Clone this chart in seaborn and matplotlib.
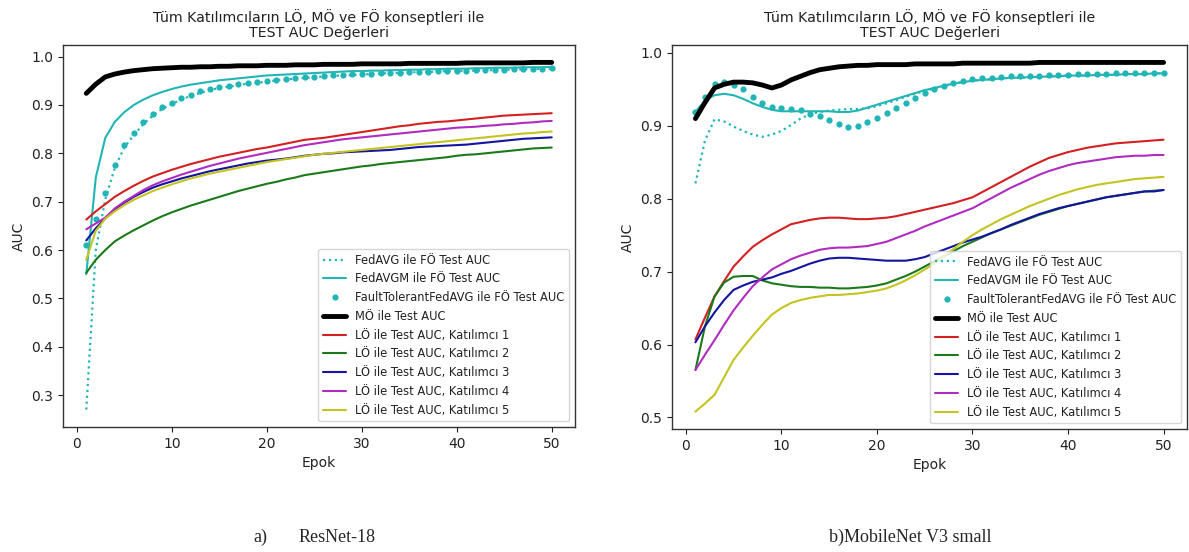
import numpy as np
import pandas as pd
import matplotlib
matplotlib.use("Agg")
import matplotlib.pyplot as plt
import seaborn as sns

epochs = list(range(1, 51))

# ---------- (a) ResNet-18 ----------
a_fedavg = [0.270, 0.600, 0.705, 0.770, 0.812, 0.838, 0.860, 0.878, 0.892, 0.902,
            0.911, 0.919, 0.925, 0.931, 0.935, 0.938, 0.941, 0.944, 0.946, 0.948,
            0.951, 0.953, 0.954, 0.956, 0.957, 0.959, 0.960, 0.961, 0.962, 0.963,
            0.964, 0.965, 0.966, 0.966, 0.967, 0.968, 0.968, 0.969, 0.970, 0.970,
            0.971, 0.971, 0.972, 0.972, 0.973, 0.973, 0.974, 0.974, 0.975, 0.975]
a_fedavgm = [0.550, 0.750, 0.832, 0.865, 0.885, 0.900, 0.911, 0.920, 0.927, 0.933,
             0.938, 0.942, 0.945, 0.948, 0.951, 0.953, 0.955, 0.957, 0.959, 0.961,
             0.962, 0.963, 0.964, 0.965, 0.966, 0.967, 0.968, 0.969, 0.970, 0.970,
             0.971, 0.971, 0.972, 0.972, 0.973, 0.973, 0.974, 0.974, 0.975, 0.975,
             0.975, 0.976, 0.976, 0.977, 0.977, 0.977, 0.978, 0.978, 0.978, 0.979]
a_ft = [0.610, 0.665, 0.718, 0.776, 0.818, 0.842, 0.864, 0.881, 0.895, 0.905,
        0.914, 0.921, 0.928, 0.933, 0.937, 0.940, 0.943, 0.945, 0.948, 0.950,
        0.952, 0.954, 0.956, 0.957, 0.958, 0.960, 0.961, 0.962, 0.963, 0.964,
        0.965, 0.966, 0.967, 0.967, 0.968, 0.969, 0.969, 0.970, 0.970, 0.971,
        0.971, 0.972, 0.972, 0.973, 0.973, 0.974, 0.974, 0.975, 0.975, 0.976]
a_mo = [0.924, 0.943, 0.958, 0.964, 0.968, 0.971, 0.973, 0.975, 0.976, 0.977,
        0.978, 0.978, 0.979, 0.979, 0.980, 0.980, 0.981, 0.981, 0.981, 0.982,
        0.982, 0.982, 0.983, 0.983, 0.983, 0.984, 0.984, 0.984, 0.984, 0.985,
        0.985, 0.985, 0.985, 0.985, 0.986, 0.986, 0.986, 0.986, 0.986, 0.986,
        0.987, 0.987, 0.987, 0.987, 0.987, 0.987, 0.987, 0.988, 0.988, 0.988]
a_p1 = [0.663, 0.680, 0.695, 0.710, 0.722, 0.733, 0.743, 0.752, 0.759, 0.766,
        0.772, 0.778, 0.783, 0.788, 0.793, 0.797, 0.801, 0.805, 0.809, 0.812,
        0.816, 0.820, 0.824, 0.828, 0.830, 0.832, 0.835, 0.838, 0.841, 0.844,
        0.847, 0.850, 0.853, 0.856, 0.858, 0.861, 0.863, 0.865, 0.866, 0.868,
        0.870, 0.872, 0.874, 0.876, 0.878, 0.879, 0.880, 0.881, 0.882, 0.883]
a_p2 = [0.553, 0.580, 0.600, 0.618, 0.630, 0.641, 0.651, 0.661, 0.670, 0.678,
        0.685, 0.692, 0.698, 0.704, 0.710, 0.716, 0.722, 0.727, 0.732, 0.737,
        0.741, 0.746, 0.750, 0.755, 0.758, 0.761, 0.764, 0.767, 0.770, 0.773,
        0.775, 0.778, 0.780, 0.782, 0.784, 0.786, 0.788, 0.790, 0.792, 0.795,
        0.797, 0.798, 0.800, 0.802, 0.804, 0.806, 0.808, 0.810, 0.811, 0.812]
a_p3 = [0.620, 0.645, 0.666, 0.684, 0.698, 0.710, 0.720, 0.729, 0.736, 0.742,
        0.748, 0.753, 0.758, 0.763, 0.767, 0.771, 0.775, 0.779, 0.782, 0.785,
        0.787, 0.789, 0.792, 0.795, 0.797, 0.799, 0.800, 0.802, 0.803, 0.804,
        0.805, 0.806, 0.807, 0.809, 0.811, 0.813, 0.814, 0.815, 0.816, 0.817,
        0.818, 0.820, 0.822, 0.824, 0.826, 0.828, 0.830, 0.831, 0.832, 0.833]
a_p4 = [0.643, 0.655, 0.667, 0.686, 0.700, 0.712, 0.724, 0.734, 0.742, 0.749,
        0.756, 0.762, 0.768, 0.774, 0.779, 0.784, 0.789, 0.793, 0.797, 0.801,
        0.805, 0.809, 0.813, 0.817, 0.820, 0.823, 0.826, 0.829, 0.831, 0.833,
        0.835, 0.837, 0.839, 0.841, 0.843, 0.845, 0.847, 0.849, 0.851, 0.853,
        0.854, 0.855, 0.857, 0.858, 0.860, 0.861, 0.863, 0.864, 0.866, 0.867]
a_p5 = [0.580, 0.640, 0.665, 0.680, 0.693, 0.704, 0.713, 0.722, 0.729, 0.736,
        0.742, 0.748, 0.753, 0.758, 0.762, 0.766, 0.770, 0.774, 0.778, 0.782,
        0.785, 0.788, 0.791, 0.794, 0.797, 0.799, 0.801, 0.803, 0.805, 0.807,
        0.809, 0.811, 0.813, 0.815, 0.817, 0.819, 0.821, 0.823, 0.825, 0.827,
        0.829, 0.831, 0.833, 0.835, 0.837, 0.839, 0.841, 0.842, 0.844, 0.845]

# ---------- (b) MobileNet V3 small ----------
b_fedavg = [0.821, 0.880, 0.909, 0.906, 0.899, 0.893, 0.888, 0.885, 0.888, 0.893,
            0.901, 0.910, 0.916, 0.919, 0.921, 0.922, 0.923, 0.923, 0.924, 0.927,
            0.931, 0.935, 0.940, 0.944, 0.948, 0.951, 0.955, 0.958, 0.960, 0.962,
            0.963, 0.964, 0.965, 0.966, 0.966, 0.967, 0.967, 0.968, 0.968, 0.969,
            0.969, 0.969, 0.970, 0.970, 0.970, 0.971, 0.971, 0.971, 0.972, 0.972]
b_fedavgm = [0.919, 0.935, 0.942, 0.944, 0.942, 0.937, 0.931, 0.926, 0.922, 0.920,
             0.920, 0.920, 0.920, 0.920, 0.920, 0.919, 0.919, 0.921, 0.925, 0.929,
             0.933, 0.937, 0.941, 0.945, 0.949, 0.952, 0.955, 0.958, 0.960, 0.962,
             0.963, 0.964, 0.965, 0.966, 0.966, 0.967, 0.967, 0.968, 0.968, 0.969,
             0.969, 0.969, 0.970, 0.970, 0.970, 0.971, 0.971, 0.971, 0.972, 0.972]
b_ft = [0.919, 0.940, 0.958, 0.960, 0.956, 0.950, 0.940, 0.931, 0.926, 0.924,
        0.923, 0.922, 0.916, 0.913, 0.908, 0.902, 0.899, 0.900, 0.905, 0.911,
        0.918, 0.925, 0.932, 0.938, 0.945, 0.951, 0.955, 0.959, 0.962, 0.964,
        0.965, 0.966, 0.967, 0.968, 0.968, 0.969, 0.969, 0.970, 0.970, 0.970,
        0.971, 0.971, 0.971, 0.971, 0.972, 0.972, 0.972, 0.972, 0.973, 0.973]
b_mo = [0.910, 0.932, 0.952, 0.957, 0.960, 0.960, 0.959, 0.956, 0.952, 0.956,
        0.963, 0.968, 0.973, 0.977, 0.979, 0.981, 0.982, 0.983, 0.983, 0.984,
        0.984, 0.984, 0.984, 0.985, 0.985, 0.985, 0.985, 0.985, 0.986, 0.986,
        0.986, 0.986, 0.986, 0.986, 0.986, 0.986, 0.987, 0.987, 0.987, 0.987,
        0.987, 0.987, 0.987, 0.987, 0.987, 0.987, 0.987, 0.987, 0.987, 0.987]
b_p1 = [0.607, 0.637, 0.666, 0.687, 0.707, 0.721, 0.734, 0.743, 0.751, 0.758,
        0.765, 0.768, 0.771, 0.773, 0.774, 0.774, 0.773, 0.772, 0.772, 0.773,
        0.774, 0.776, 0.779, 0.782, 0.785, 0.788, 0.791, 0.794, 0.798, 0.802,
        0.809, 0.816, 0.823, 0.830, 0.837, 0.844, 0.850, 0.856, 0.860, 0.864,
        0.867, 0.870, 0.872, 0.874, 0.876, 0.877, 0.878, 0.879, 0.880, 0.881]
b_p2 = [0.565, 0.625, 0.666, 0.685, 0.693, 0.694, 0.694, 0.688, 0.684, 0.682,
        0.680, 0.679, 0.679, 0.678, 0.678, 0.677, 0.677, 0.678, 0.679, 0.681,
        0.684, 0.689, 0.694, 0.700, 0.707, 0.714, 0.721, 0.728, 0.735, 0.741,
        0.747, 0.753, 0.758, 0.763, 0.768, 0.773, 0.778, 0.782, 0.786, 0.790,
        0.793, 0.796, 0.799, 0.802, 0.804, 0.806, 0.808, 0.810, 0.811, 0.812]
b_p3 = [0.603, 0.625, 0.644, 0.661, 0.675, 0.681, 0.686, 0.689, 0.692, 0.697,
        0.701, 0.706, 0.711, 0.715, 0.718, 0.719, 0.719, 0.718, 0.717, 0.716,
        0.715, 0.715, 0.715, 0.717, 0.720, 0.725, 0.730, 0.735, 0.740, 0.744,
        0.748, 0.753, 0.758, 0.764, 0.769, 0.774, 0.779, 0.783, 0.787, 0.790,
        0.793, 0.796, 0.799, 0.802, 0.804, 0.806, 0.808, 0.810, 0.810, 0.812]
b_p4 = [0.565, 0.586, 0.606, 0.627, 0.647, 0.664, 0.680, 0.692, 0.703, 0.710,
        0.717, 0.722, 0.726, 0.730, 0.732, 0.733, 0.733, 0.734, 0.735, 0.738,
        0.741, 0.746, 0.751, 0.756, 0.762, 0.767, 0.772, 0.777, 0.782, 0.787,
        0.794, 0.801, 0.808, 0.815, 0.821, 0.827, 0.833, 0.838, 0.842, 0.846,
        0.849, 0.851, 0.853, 0.855, 0.857, 0.858, 0.859, 0.859, 0.860, 0.860]
b_p5 = [0.508, 0.519, 0.531, 0.555, 0.579, 0.596, 0.612, 0.627, 0.641, 0.650,
        0.657, 0.661, 0.664, 0.666, 0.668, 0.668, 0.669, 0.670, 0.672, 0.674,
        0.677, 0.682, 0.688, 0.695, 0.703, 0.711, 0.721, 0.731, 0.741, 0.750,
        0.758, 0.765, 0.772, 0.778, 0.784, 0.790, 0.795, 0.800, 0.805, 0.809,
        0.813, 0.816, 0.819, 0.821, 0.823, 0.825, 0.827, 0.828, 0.829, 0.830]

labels = ["FedAVG ile FÖ Test AUC", "FedAVGM ile FÖ Test AUC",
          "FaultTolerantFedAVG ile FÖ Test AUC", "MÖ ile Test AUC",
          "LÖ ile Test AUC, Katılımcı 1", "LÖ ile Test AUC, Katılımcı 2",
          "LÖ ile Test AUC, Katılımcı 3", "LÖ ile Test AUC, Katılımcı 4",
          "LÖ ile Test AUC, Katılımcı 5"]
title = "Tüm Katılımcıların LÖ, MÖ ve FÖ konseptleri ile\nTEST AUC Değerleri"
captions = ["a)", "ResNet-18", "b)MobileNet V3 small"]

sns.set_style("ticks")
plt.rcParams["font.family"] = ["DejaVu Sans"]

CYAN = "#22b5b5"
COLS = ["#d42020", "#1a7a1a", "#1414a0", "#b02cc0", "#c4c420"]

fig = plt.figure(figsize=(11.89, 5.52), dpi=100)
axA = fig.add_axes([0.053, 0.2264, 0.4306, 0.692])
axB = fig.add_axes([0.5652, 0.2228, 0.4331, 0.6957])


def draw(ax, fedavg, fedavgm, ft, mo, parts):
    x = np.array(epochs)
    sns.lineplot(x=x, y=fedavg, ax=ax, color=CYAN, linestyle=":", linewidth=1.6,
                 label=labels[0])
    sns.lineplot(x=x, y=fedavgm, ax=ax, color=CYAN, linewidth=1.5, label=labels[1])
    sns.lineplot(x=x, y=ft, ax=ax, color=CYAN, linestyle="", marker="o",
                 markersize=4.5, markeredgewidth=0, label=labels[2])
    sns.lineplot(x=x, y=mo, ax=ax, color="black", linewidth=3.5, label=labels[3])
    for i, (p, c) in enumerate(zip(parts, COLS)):
        sns.lineplot(x=x, y=p, ax=ax, color=c, linewidth=1.5, label=labels[4 + i])
    ax.set_title(title, fontsize=10.2, color="#222222", linespacing=1.1)
    ax.set_xlabel("Epok", fontsize=10, color="#222222")
    ax.set_ylabel("AUC", fontsize=10, color="#222222")
    ax.set_xticks([0, 10, 20, 30, 40, 50])
    ax.tick_params(labelsize=10, length=3.5, width=0.8, colors="#222222")
    for s in ax.spines.values():
        s.set_color("#333333")
        s.set_linewidth(1.0)
    leg = ax.legend(loc="lower right", fontsize=8.3, frameon=True, fancybox=True,
                    framealpha=0.8, handlelength=2.0, borderpad=0.4,
                    labelspacing=0.5)
    leg.get_frame().set_edgecolor("#cccccc")
    for t in leg.get_texts():
        t.set_color("#222222")


draw(axA, a_fedavg, a_fedavgm, a_ft, a_mo, [a_p1, a_p2, a_p3, a_p4, a_p5])
draw(axB, b_fedavg, b_fedavgm, b_ft, b_mo, [b_p1, b_p2, b_p3, b_p4, b_p5])

serif = ["Liberation Serif", "DejaVu Serif"]
fig.text(253 / 1189, 1 - 537 / 552, captions[0], family=serif, fontsize=13,
         ha="left", va="center")
fig.text(299 / 1189, 1 - 537 / 552, captions[1], family=serif, fontsize=13,
         ha="left", va="center")
fig.text(829 / 1189, 1 - 537 / 552, captions[2], family=serif, fontsize=13,
         ha="left", va="center")

fig.savefig("out.png", dpi=100, facecolor="white")
